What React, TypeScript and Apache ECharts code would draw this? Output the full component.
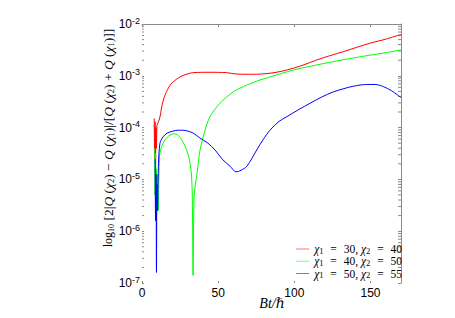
import React, { useEffect, useRef } from 'react';
import * as echarts from 'echarts';

// ---- data ----
const chi1 = [30, 40, 50];
const chi2 = [40, 50, 55];
const seriesNames = ['χ1 = 30, χ2 = 40', 'χ1 = 40, χ2 = 50', 'χ1 = 50, χ2 = 55'];
const seriesColors = ['#ff0000', '#00ff00', '#0000ff'];

const redT = [8.0, 8.3, 8.6, 8.9, 9.2, 9.5, 9.8, 10.5, 11.8, 12.8, 14.0, 15.5, 18.4, 21.5, 24.9, 29, 33.7, 44.6, 55.6, 62.2, 73.1, 84, 92, 99.3, 107, 114.7, 123, 132.1, 141, 149.7, 160, 170];
const redV = [1.5e-4, 2.5e-5, 1.3e-4, 2.0e-5, 1.0e-4, 4.0e-5, 1.1e-4, 1.23e-4, 1.6e-4, 2.4e-4, 3.4e-4, 4.5e-4, 6.6e-4, 8.1e-4, 9.5e-4, 1.07e-3, 1.15e-3, 1.17e-3, 1.15e-3, 1.08e-3, 1.07e-3, 1.12e-3, 1.23e-3, 1.40e-3, 1.66e-3, 2.02e-3, 2.43e-3, 2.92e-3, 3.55e-3, 4.27e-3, 5.1e-3, 6.3e-3];

const greenT = [8.3, 8.6, 8.9, 9.2, 9.5, 9.8, 10.2, 10.7, 11.5, 12.9, 15.1, 18.4, 21.5, 24.9, 27, 29.3, 31, 32.3, 33, 33.5, 34.1, 34.8, 35.8, 36.8, 38.1, 41.4, 44.6, 51.2, 59.9, 68.7, 77.5, 84, 99.3, 114.7, 132.1, 149.7, 160, 170];
const greenV = [4.0e-5, 5.0e-6, 3.2e-5, 1.8e-6, 1.6e-5, 3.2e-6, 1.26e-5, 2.5e-6, 2.8e-5, 4.3e-5, 5.8e-5, 7.2e-5, 7.6e-5, 6.5e-5, 5.2e-5, 3.7e-5, 2.5e-5, 1.4e-5, 5.0e-6, 1.4e-7, 4.0e-6, 7.1e-6, 1.12e-5, 1.9e-5, 3.7e-5, 8.9e-5, 1.62e-4, 2.95e-4, 4.9e-4, 6.6e-4, 8.3e-4, 9.5e-4, 1.29e-3, 1.62e-3, 2.04e-3, 2.5e-3, 2.8e-3, 3.16e-3];

const blueT = [8.6, 8.9, 9.2, 9.5, 9.8, 10.2, 10.8, 11.8, 13.8, 16.4, 20, 23.5, 27, 30.5, 33.7, 38, 43.3, 47.9, 53, 57.8, 61.7, 65, 68.9, 75.3, 79.4, 84, 90, 95, 103, 110.3, 118, 125.6, 132, 138.7, 147.5, 153, 158.4, 164, 170];
const blueV = [2.5e-5, 1.6e-6, 1.26e-5, 1.6e-7, 7.9e-6, 2.5e-6, 2.0e-5, 5.0e-5, 6.6e-5, 7.8e-5, 8.5e-5, 8.9e-5, 8.9e-5, 8.5e-5, 7.8e-5, 6.3e-5, 5.0e-5, 3.7e-5, 2.4e-5, 1.8e-5, 1.4e-5, 1.5e-5, 1.8e-5, 3.7e-5, 5.8e-5, 8.9e-5, 1.32e-4, 1.62e-4, 2.24e-4, 2.95e-4, 3.9e-4, 4.9e-4, 5.6e-4, 6.3e-4, 6.8e-4, 6.8e-4, 6.2e-4, 5.1e-4, 3.8e-4];

const xMin = 0;
const xMax = 170;
const xInterval = 50;
const yMin = 1e-7;
const yMax = 1e-2;
const minorTickValues: number[] = [];
for (let d = -7; d <= -3; d++) {
  for (let k = 2; k <= 9; k++) minorTickValues.push(k * Math.pow(10, d));
}

const zip = (t: number[], v: number[]) => t.map((x, i) => [x, v[i]]);
const seriesData = [zip(redT, redV), zip(greenT, greenV), zip(blueT, blueV)];

const serif = 'Liberation Serif, DejaVu Serif, serif';
const sans = 'Liberation Sans, Arial, sans-serif';
const grey = '#8a8a8a';

const legendLabel = (i: number) =>
  `{c|χ}{s|1}{t| }{q|=}{t| ${chi1[i]}, }{c|χ}{s|2}{t| }{q|=}{t| ${chi2[i]}}`;

const yTitle =
  '{l|log}{ls|10}{t| [2|}{q|Q}{t| (}{q|χ}{s|2}{t|) − }{q|Q}{t| (}{q|χ}{s|1}{t|)|/[}{q|Q}{t| (}{q|χ}{s|2}{t|) + }{q|Q}{t| (}{q|χ}{s|1}{t|)]]}';

export default function App() {
  const ref = useRef<HTMLDivElement>(null);
  useEffect(() => {
    const chart = echarts.init(ref.current!, null, { renderer: 'svg' });
    const option: any = {
      animation: false,
      backgroundColor: '#fff',
      grid: { left: 142, right: 54, top: 24, bottom: 35 },
      xAxis: [
        {
          type: 'value', min: xMin, max: xMax, interval: xInterval, position: 'bottom',
          axisLine: { show: false, onZero: false },
          axisTick: { show: true, inside: true, length: 2, lineStyle: { color: grey } },
          axisLabel: {
            formatter: (v: number) => (v % xInterval === 0 ? String(v) : ''),
            color: '#000', fontFamily: sans, fontSize: 12, margin: 4,
          },
          splitLine: { show: false },
        },
        {
          type: 'value', min: xMin, max: xMax, interval: xInterval, position: 'top',
          axisLine: { show: true, onZero: false, lineStyle: { color: grey, width: 1 } },
          axisTick: { show: true, inside: true, length: 3, lineStyle: { color: grey } },
          axisLabel: { show: false },
          splitLine: { show: false },
        },
      ],
      yAxis: [
        {
          type: 'log', logBase: 10, min: yMin, max: yMax, position: 'left',
          axisLine: { show: false, onZero: false },
          axisTick: { show: true, inside: true, length: 2, lineStyle: { color: grey } },
          axisLabel: {
            margin: 2,
            formatter: (v: number) => `{b|10}{e|${Math.round(Math.log10(v))}}`,
            rich: {
              b: { fontFamily: sans, fontSize: 12, color: '#000', lineHeight: 16 },
              e: { fontFamily: sans, fontSize: 9, color: '#000', lineHeight: 7, verticalAlign: 'top' },
            },
          },
          splitLine: { show: false },
        },
        {
          type: 'log', logBase: 10, min: yMin, max: yMax, position: 'right',
          axisLine: { show: true, onZero: false, lineStyle: { color: grey, width: 1 } },
          axisTick: { show: true, inside: true, length: 3, lineStyle: { color: grey } },
          axisLabel: { show: false },
          splitLine: { show: false },
        },
      ],
      legend: {
        data: seriesNames,
        orient: 'vertical',
        right: 53,
        top: 243,
        icon: 'rect',
        itemWidth: 13,
        itemHeight: 1,
        itemGap: 0,
        padding: 0,
        itemStyle: { opacity: 0.55 },
        formatter: (name: string) => legendLabel(seriesNames.indexOf(name)),
        textStyle: {
          color: '#000',
          rich: {
            t: { fontFamily: serif, fontSize: 11.5, color: '#000', lineHeight: 12.5 },
            q: { fontFamily: serif, fontSize: 11.5, color: '#000', lineHeight: 12.5, padding: [0, 4, 0, 4] },
            c: { fontFamily: serif, fontSize: 11.5, fontStyle: 'italic', color: '#000', lineHeight: 12.5 },
            s: { fontFamily: serif, fontSize: 8.5, color: '#000', lineHeight: 6, verticalAlign: 'bottom' },
          },
        },
      },
      series: [
        ...seriesNames.map((name, i) => ({
          name,
          type: 'line',
          xAxisIndex: 0,
          yAxisIndex: 0,
          data: seriesData[i],
          showSymbol: false,
          symbol: 'none',
          smooth: 0.3,
          lineStyle: { color: seriesColors[i], width: 1 },
          itemStyle: { color: seriesColors[i] },
        })),
        {
          type: 'custom',
          name: 'minorTicks',
          xAxisIndex: 0,
          yAxisIndex: 0,
          silent: true,
          clip: false,
          encode: { x: 0, y: 1 },
          data: minorTickValues.map((v) => [xMin, v]),
          renderItem: (params: any, api: any) => {
            const v = api.value(1);
            const pl = api.coord([xMin, v]);
            const pr = api.coord([xMax, v]);
            return {
              type: 'group',
              children: [
                { type: 'line', shape: { x1: pl[0], y1: pl[1], x2: pl[0] + 2, y2: pl[1] }, style: { stroke: grey, lineWidth: 1 } },
                { type: 'line', shape: { x1: pr[0] - 3, y1: pr[1], x2: pr[0], y2: pr[1] }, style: { stroke: grey, lineWidth: 1 } },
              ],
            };
          },
        },
      ],
      graphic: [
        {
          type: 'text',
          x: 108,
          y: 138,
          rotation: Math.PI / 2,
          style: {
            text: yTitle,
            align: 'center',
            verticalAlign: 'middle',
            fill: '#000',
            rich: {
              l: { fontFamily: serif, fontSize: 12, fill: '#000', lineHeight: 14 },
              ls: { fontFamily: serif, fontSize: 8, fill: '#000', lineHeight: 8, verticalAlign: 'bottom' },
              t: { fontFamily: serif, fontSize: 13.5, fill: '#000', lineHeight: 14 },
              q: { fontFamily: serif, fontSize: 13.5, fontStyle: 'italic', fill: '#000', lineHeight: 14 },
              s: { fontFamily: serif, fontSize: 8.5, fill: '#000', lineHeight: 7, verticalAlign: 'bottom' },
            },
          },
        },
        {
          type: 'text',
          x: 272,
          y: 303,
          style: {
            text: 'Bt/ℏ',
            align: 'center',
            verticalAlign: 'middle',
            fill: '#000',
            fontFamily: serif,
            fontSize: 14,
            fontStyle: 'italic',
          },
        },
      ],
    };
    chart.setOption(option);
    return () => chart.dispose();
  }, []);
  return (
    <div
      ref={ref}
      style={{ position: 'fixed', left: 0, top: 0, width: 455, height: 318, background: '#fff' }}
    />
  );
}
